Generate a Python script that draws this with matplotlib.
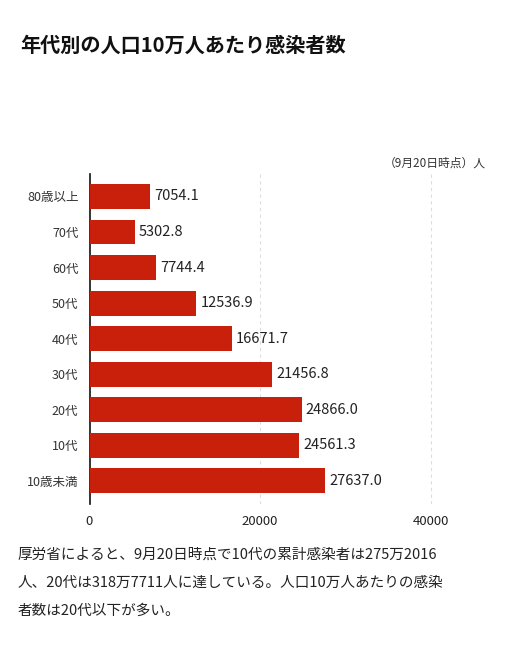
import matplotlib
matplotlib.use("Agg")
import matplotlib.pyplot as plt

plt.rcParams['font.family'] = ['Noto Sans CJK JP', 'DejaVu Sans']

categories = ['80歳以上', '70代', '60代', '50代', '40代', '30代', '20代', '10代', '10歳未満']
values = [7054.1, 5302.8, 7744.4, 12536.9, 16671.7, 21456.8, 24866.0, 24561.3, 27637.0]
xticks = [0, 20000, 40000]

W, H = 508, 654
fig = plt.figure(figsize=(W / 100, H / 100), dpi=100)
ax = fig.add_axes([89.5 / W, 1 - 504 / H, (480 - 89.5) / W, (504 - 174) / H])

ypos = list(range(len(categories)))
ax.barh(ypos, values, height=0.70, color='#c8200a', zorder=3)
for y, v in zip(ypos, values):
    ax.text(v + 500, y, f'{v:.1f}', va='center', ha='left', fontsize=10.5, color='#222222')

ax.set_xlim(0, 45800)
ax.set_ylim(8.65, -0.63)
ax.set_yticks(ypos)
ax.set_yticklabels(categories, fontsize=9, color='#333333')
ax.set_xticks(xticks)
ax.set_xticklabels([str(t) for t in xticks], fontsize=9.5, color='#222222')
ax.tick_params(length=0, pad=8)
ax.tick_params(axis='y', pad=8)
for t in xticks[1:]:
    ax.axvline(t, color='#dddddd', linestyle=(0, (3, 3)), linewidth=0.8, zorder=1)
for s in ['top', 'right', 'bottom']:
    ax.spines[s].set_visible(False)
ax.spines['left'].set_color('#111111')
ax.spines['left'].set_linewidth(1.2)

fig.text(20 / W, 1 - 45 / H, '年代別の人口10万人あたり感染者数', fontsize=14.5,
         fontweight='bold', va='center', ha='left', color='#111111')
fig.text(486 / W, 1 - 163 / H, '（9月20日時点）人', fontsize=8.5,
         va='center', ha='right', color='#333333')
lines = ['厚労省によると、9月20日時点で10代の累計感染者は275万2016',
         '人、20代は318万7711人に達している。人口10万人あたりの感染',
         '者数は20代以下が多い。']
for i, line in enumerate(lines):
    fig.text(18 / W, 1 - (555 + 28 * i) / H, line, fontsize=10.5,
             va='center', ha='left', color='#222222')

fig.savefig('out.png', dpi=100)
